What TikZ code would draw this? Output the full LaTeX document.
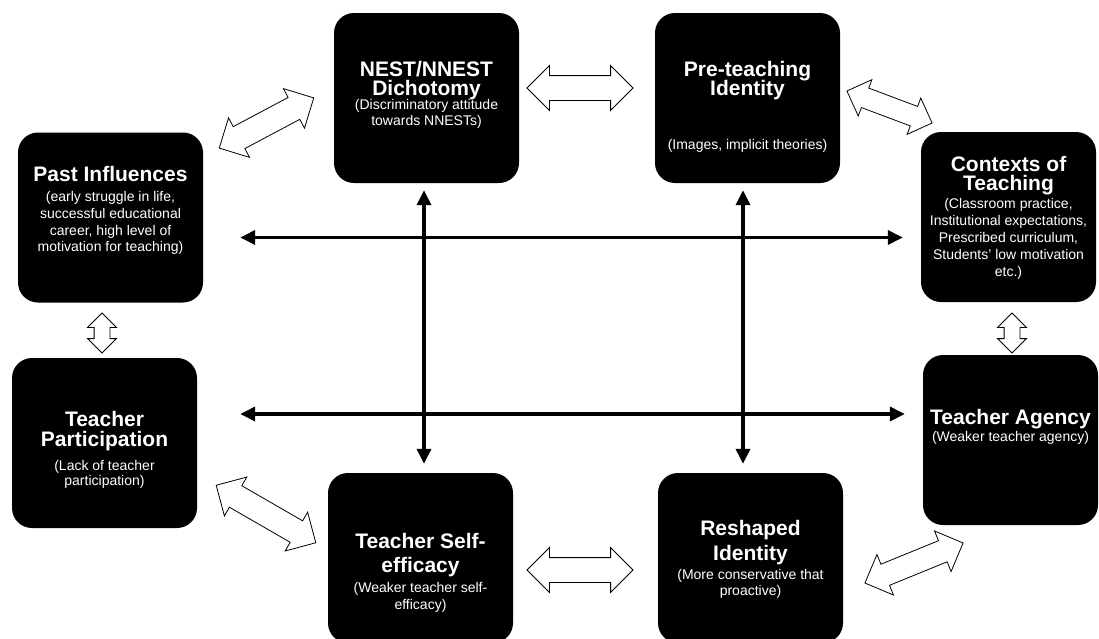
\documentclass[tikz,border=0pt]{standalone}
\usepackage{fontspec}
\setmainfont{Liberation Sans}
\usepackage{tikz}
\usetikzlibrary{arrows.meta,positioning,shapes.arrows}

\newcommand{\stagetitle}[1]{{\fontsize{21}{19}\selectfont\bfseries #1}}
\newcommand{\stagenote}[1]{{\fontsize{14}{16.7}\selectfont #1}}

\tikzset{
	stage/.style={fill=black,rounded corners=20pt,minimum width=185pt,minimum height=170pt,inner sep=0pt},
	stagetext/.style={text=white,align=center,anchor=north,inner sep=0pt,font={\fontsize{14}{16.7}\selectfont\lineskiplimit=-30pt}},
	flow/.style={double arrow,draw=black,fill=white,line width=0.8pt,inner xsep=0pt,inner ysep=12pt,minimum width=0pt,minimum height=106pt,double arrow head extend=10pt},
	link/.style={line width=3.5pt,{Triangle[length=15pt,width=14pt]}-{Triangle[length=15pt,width=14pt]}}
}

\begin{document}
\begin{tikzpicture}[x=1pt,y=-1pt]
	\useasboundingbox (0,0) rectangle (1099,638);
	% stages
	\node[stage] (past) at (110.5,217.5) {};
	\node[stage] (nest) at (426.5,98) {};
	\node[stage] (pre) at (747.5,98) {};
	\node[stage,minimum width=175pt] (ctx) at (1008.5,217) {};
	\node[stage] (part) at (104.5,443) {};
	\node[stage,minimum width=175pt] (agency) at (1010.5,440) {};
	\node[stage] (self) at (420.5,558) {};
	\node[stage] (resh) at (750.5,558) {};
	% texts
	\node[stagetext] (pasttxt) at (110.5,166.4) {\stagetitle{Past Influences}\\[3.3pt]
		\stagenote{(early struggle in life,}\\ \stagenote{successful educational}\\
		\stagenote{career, high level of}\\ \stagenote{motivation for teaching)}};
	\node[stagetext] (nesttxt) at (426.5,61) {\stagetitle{NEST/NNEST}\\[2.6pt] \stagetitle{Dichotomy}\\[-2.5pt]
		\stagenote{(Discriminatory attitude}\\[-1pt] \stagenote{towards NNESTs)}};
	\node[stagetext] (pretxt) at (747.5,61) {\stagetitle{Pre-teaching}\\[2.6pt] \stagetitle{Identity}\\[37pt]
		\stagenote{(Images, implicit theories)}};
	\node[stagetext] (ctxtxt) at (1008.5,156) {\stagetitle{Contexts of}\\[2.8pt] \stagetitle{Teaching}\\[0.4pt]
		\stagenote{(Classroom practice,}\\[0.3pt] \stagenote{Institutional expectations,}\\[0.3pt]
		\stagenote{Prescribed curriculum,}\\[0.3pt] \stagenote{Students' low motivation}\\[0.3pt] \stagenote{etc.)}};
	\node[stagetext] (parttxt) at (104.5,410.7) {\stagetitle{Teacher}\\[3.3pt] \stagetitle{Participation}\\[7.3pt]
		\stagenote{(Lack of teacher}\\[-1.7pt] \stagenote{participation)}};
	\node[stagetext] (agencytxt) at (1010.5,408.7) {\stagetitle{Teacher Agency}\\[1pt]
		\stagenote{(Weaker teacher agency)}};
	\node[stagetext] (selftxt) at (420.5,532.7) {\stagetitle{Teacher Self-}\\[7.3pt] \stagetitle{efficacy}\\[3.3pt]
		\stagenote{(Weaker teacher self-}\\[0.3pt] \stagenote{efficacy)}};
	\node[stagetext] (reshtxt) at (750.5,519.7) {\stagetitle{Reshaped}\\[8.3pt] \stagetitle{Identity}\\[2.6pt]
		\stagenote{(More conservative that}\\[-1pt] \stagenote{proactive)}};
	% hollow arrows
	\node[flow,minimum height=107pt,rotate=28] (pastnest) at (266.5,123) {};
	\node[flow] (nestpre) at (580,88) {};
	\node[flow,minimum height=91pt,inner ysep=10pt,double arrow head extend=9pt,rotate=-20.6] (prectx) at (889.5,107) {};
	\node[flow,minimum height=40pt,inner ysep=7.5pt,double arrow head extend=6.5pt,rotate=90] (pastpart) at (102,333) {};
	\node[flow,minimum height=40pt,inner ysep=7.5pt,double arrow head extend=6.5pt,rotate=90] (ctxagency) at (1012,333) {};
	\node[flow,minimum height=115pt,rotate=-30] (partself) at (266,514) {};
	\node[flow] (selfresh) at (580,570) {};
	\node[flow,inner ysep=11pt,double arrow head extend=10.5pt,rotate=22.2] (reshagency) at (914,563) {};
	% links
	\draw[link] ([shift={(37,20)}]past.east) -- ([shift={(-18,20.5)}]ctx.west);
	\draw[link] ([shift={(43,-29)}]part.east) -- ([shift={(-18,-26)}]agency.west);
	\draw[link] ([shift={(-2.5,7)}]nest.south) -- ([shift={(3.5,-9)}]self.north);
	\draw[link] ([shift={(-4.5,7)}]pre.south) -- ([shift={(-7.5,-9)}]resh.north);
\end{tikzpicture}
\end{document}
